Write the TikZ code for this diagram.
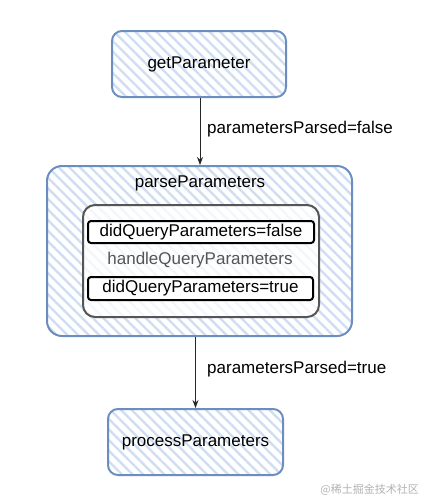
\documentclass[tikz,border=0pt]{standalone}
\usepackage{fontspec}
\setmainfont{Liberation Sans}
\newfontfamily\cjk{Noto Sans CJK SC}
\usetikzlibrary{patterns.meta,arrows.meta}
\definecolor{boxblue}{HTML}{6C8EBF}
\definecolor{hatch}{HTML}{D0DEF3}
\definecolor{innergray}{HTML}{555555}
\tikzset{
  hatched/.style={draw=boxblue, line width=2pt, rounded corners=10pt,
    pattern={Lines[angle=-45,distance=7.5pt,line width=2.4pt]}, pattern color=hatch,
    font=\fontsize{17}{20}\selectfont, inner sep=0pt},
  innerbox/.style={draw=innergray, line width=2pt, rounded corners=12pt, fill=white, fill opacity=0.75, text opacity=1},
  flagbox/.style={draw=black, line width=2pt, rounded corners=3pt, fill=white,
    font=\fontsize{17}{20}\selectfont, inner sep=0pt},
  lbl/.style={font=\fontsize{17}{20}\selectfont, inner sep=0pt},
  arr/.style={-{Stealth[length=8pt,width=6pt]}, line width=0.8pt, draw=black!85}
}
\begin{document}
\begin{tikzpicture}[x=1pt,y=-1pt]
\useasboundingbox (0,0) rectangle (422,501);
\node[hatched, minimum width=174pt, minimum height=66pt] (get) at (199,64) {getParameter};
\node[hatched, rounded corners=15pt, minimum width=305pt, minimum height=170pt] (parse) at (199.5,251) {};
\node[lbl] (ptitle) at (200,183) {parseParameters};
\node[innerbox, minimum width=236pt, minimum height=112pt] (handle) at (201,261) {};
\node[lbl, text=innergray] (htitle) at (200,260) {handleQueryParameters};
\node[flagbox, minimum width=226pt, minimum height=22pt] (dfalse) at (201,232) {didQueryParameters=false};
\node[flagbox, minimum width=225pt, minimum height=23pt] (dtrue) at (200.5,288.5) {didQueryParameters=true};
\node[hatched, minimum width=175pt, minimum height=66pt] (proc) at (195.5,442) {processParameters};
\draw[arr] ([xshift=1pt]get.south) -- ([xshift=1pt]get.south |- parse.north) coordinate (a1end);
\node[lbl, anchor=west] (l1) at (207,129) {parametersParsed=false};
\draw[arr] (parse.south -| proc.north) -- (proc.north);
\node[lbl, anchor=west] (l2) at (207,369) {parametersParsed=true};
\node[font=\cjk\fontsize{11}{13}\selectfont, text=black!30, anchor=east, inner sep=0pt] (wm) at (419,490) {@稀土掘金技术社区};
\end{tikzpicture}
\end{document}
